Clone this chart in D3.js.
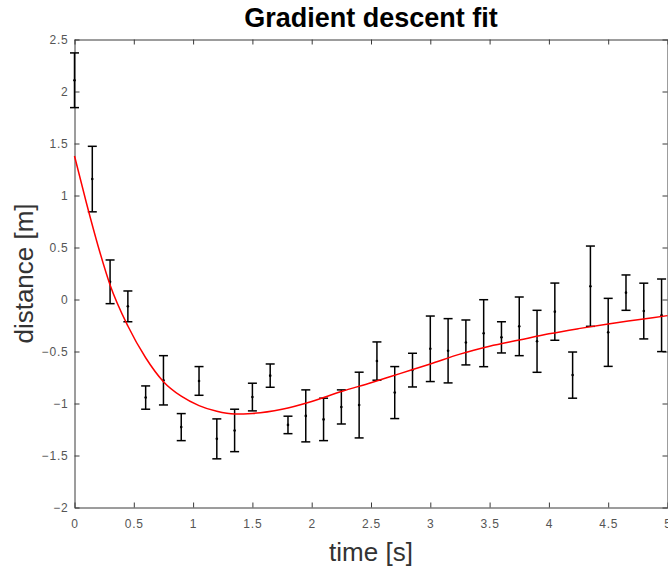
<!DOCTYPE html>
<html lang="en">
<head>
    <meta charset="UTF-8">
    <title>Gradient descent fit</title>
    <script src="https://d3js.org/d3.v7.min.js"></script>
    <style>
        body { margin: 0; background: #fff; }
        svg { display: block; }
    </style>
</head>
<body>

<div id="my_dataviz"></div>

<script>
    // measured samples (time, distance, half error)
    var times = [0, 0.15, 0.3, 0.45, 0.6, 0.75, 0.9, 1.05, 1.2, 1.35, 1.5, 1.65, 1.8, 1.95, 2.1, 2.25, 2.4,
                 2.55, 2.7, 2.85, 3.0, 3.15, 3.3, 3.45, 3.6, 3.75, 3.9, 4.05, 4.2, 4.35, 4.5, 4.65, 4.8, 4.95];
    var distances = [2.108, 1.158, 0.17, -0.066, -0.943, -0.777, -1.227, -0.783, -1.34, -1.259, -0.938, -0.732,
                     -1.206, -1.119, -1.153, -1.033, -1.015, -0.592, -0.895, -0.679, -0.474, -0.493, -0.413,
                     -0.324, -0.364, -0.258, -0.402, -0.117, -0.727, 0.128, -0.316, 0.066, -0.111, -0.152];
    var errors = [0.263, 0.315, 0.21, 0.148, 0.112, 0.237, 0.13, 0.138, 0.192, 0.204, 0.133, 0.112,
                  0.084, 0.25, 0.204, 0.164, 0.316, 0.184, 0.25, 0.162, 0.315, 0.309, 0.216,
                  0.322, 0.15, 0.282, 0.298, 0.275, 0.222, 0.386, 0.327, 0.17, 0.268, 0.349];

    // fitted curve
    var fitTimes = [0, 0.1, 0.2, 0.3, 0.45, 0.6, 0.75, 0.9, 1.05, 1.2, 1.35, 1.5, 1.75, 2.0, 2.25,
                    2.5, 2.75, 3.0, 3.25, 3.5, 3.75, 4.0, 4.25, 4.5, 4.75, 5.0];
    var fitValues = [1.38, 0.93, 0.51, 0.14, -0.255, -0.56, -0.79, -0.93, -1.02, -1.075, -1.10, -1.095,
                     -1.055, -0.98, -0.885, -0.80, -0.71, -0.62, -0.525, -0.45, -0.39, -0.33, -0.28,
                     -0.235, -0.195, -0.155];

    var xTicks = [0, 0.5, 1, 1.5, 2, 2.5, 3, 3.5, 4, 4.5, 5];
    var yTicks = [-2, -1.5, -1, -0.5, 0, 0.5, 1, 1.5, 2, 2.5];

    var data = times.map(function(t, i) { return {t: t, d: distances[i], e: errors[i]}; });
    var fit = fitTimes.map(function(t, i) { return {t: t, d: fitValues[i]}; });

    var W = 668, H = 569;
    var plotL = 74.5, plotR = 667.5, plotT = 39.5, plotB = 507.5;

    var svg = d3.select("#my_dataviz").append("svg")
        .attr("width", W)
        .attr("height", H)
        .style("font-family", "'Liberation Sans', Arial, Helvetica, sans-serif");

    var x = d3.scaleLinear().domain([0, 5]).range([plotL, plotR]);
    var y = d3.scaleLinear().domain([-2, 2.5]).range([plotB, plotT]);

    var axisColor = "#3a3a3a";
    var labelColor = "#555";

    function styleAxis(g) {
        g.select(".domain").attr("stroke", axisColor);
        g.selectAll(".tick line").attr("stroke", axisColor);
        g.selectAll(".tick text").attr("fill", labelColor).style("font-size", "12px")
            .style("letter-spacing", "0.8px");
    }

    // bottom axis with labels
    svg.append("g")
        .attr("transform", "translate(0," + plotB + ")")
        .call(d3.axisBottom(x).tickValues(xTicks).tickSize(-5).tickSizeOuter(0).tickPadding(12)
            .tickFormat(d3.format("")))
        .call(styleAxis);
    // top axis
    svg.append("g")
        .attr("transform", "translate(0," + plotT + ")")
        .call(d3.axisTop(x).tickValues(xTicks).tickSize(-5).tickSizeOuter(0).tickFormat(""))
        .call(styleAxis);
    // left axis with labels
    svg.append("g")
        .attr("transform", "translate(" + plotL + ",0)")
        .call(d3.axisLeft(y).tickValues(yTicks).tickSize(-5).tickSizeOuter(0).tickPadding(6)
            .tickFormat(d3.format("")))
        .call(styleAxis);
    // right axis
    svg.append("g")
        .attr("transform", "translate(" + plotR + ",0)")
        .call(d3.axisRight(y).tickValues(yTicks).tickSize(-5).tickSizeOuter(0).tickFormat(""))
        .call(styleAxis);

    // error bars
    var bars = svg.append("g").attr("stroke", "#000").attr("stroke-width", 1.5);
    var cap = 4.5;
    bars.selectAll(".ev").data(data).enter().append("line")
        .attr("x1", function(d) { return x(d.t); })
        .attr("x2", function(d) { return x(d.t); })
        .attr("y1", function(d) { return y(d.d + d.e); })
        .attr("y2", function(d) { return y(d.d - d.e); });
    bars.selectAll(".ct").data(data).enter().append("line")
        .attr("x1", function(d) { return x(d.t) - cap; })
        .attr("x2", function(d) { return x(d.t) + cap; })
        .attr("y1", function(d) { return y(d.d + d.e); })
        .attr("y2", function(d) { return y(d.d + d.e); });
    bars.selectAll(".cb").data(data).enter().append("line")
        .attr("x1", function(d) { return x(d.t) - cap; })
        .attr("x2", function(d) { return x(d.t) + cap; })
        .attr("y1", function(d) { return y(d.d - d.e); })
        .attr("y2", function(d) { return y(d.d - d.e); });
    svg.append("g").selectAll("circle").data(data).enter().append("circle")
        .attr("cx", function(d) { return x(d.t); })
        .attr("cy", function(d) { return y(d.d); })
        .attr("r", 1.3)
        .attr("fill", "#000");

    // fitted line
    svg.append("path")
        .datum(fit)
        .attr("fill", "none")
        .attr("stroke", "#ff0000")
        .attr("stroke-width", 1.5)
        .attr("d", d3.line()
            .curve(d3.curveMonotoneX)
            .x(function(d) { return x(d.t); })
            .y(function(d) { return y(d.d); })
        );

    // title and labels
    svg.append("text")
        .attr("x", (plotL + plotR) / 2)
        .attr("y", 27)
        .attr("text-anchor", "middle")
        .style("font-size", "27px")
        .style("font-weight", "bold")
        .text("Gradient descent fit");

    svg.append("text")
        .attr("x", (plotL + plotR) / 2)
        .attr("y", 561)
        .attr("text-anchor", "middle")
        .attr("fill", "#333")
        .style("font-size", "26px")
        .text("time [s]");

    svg.append("text")
        .attr("transform", "translate(33," + ((plotT + plotB) / 2) + ") rotate(-90)")
        .attr("text-anchor", "middle")
        .attr("fill", "#333")
        .style("font-size", "26px")
        .text("distance [m]");
</script>

</body>
</html>
